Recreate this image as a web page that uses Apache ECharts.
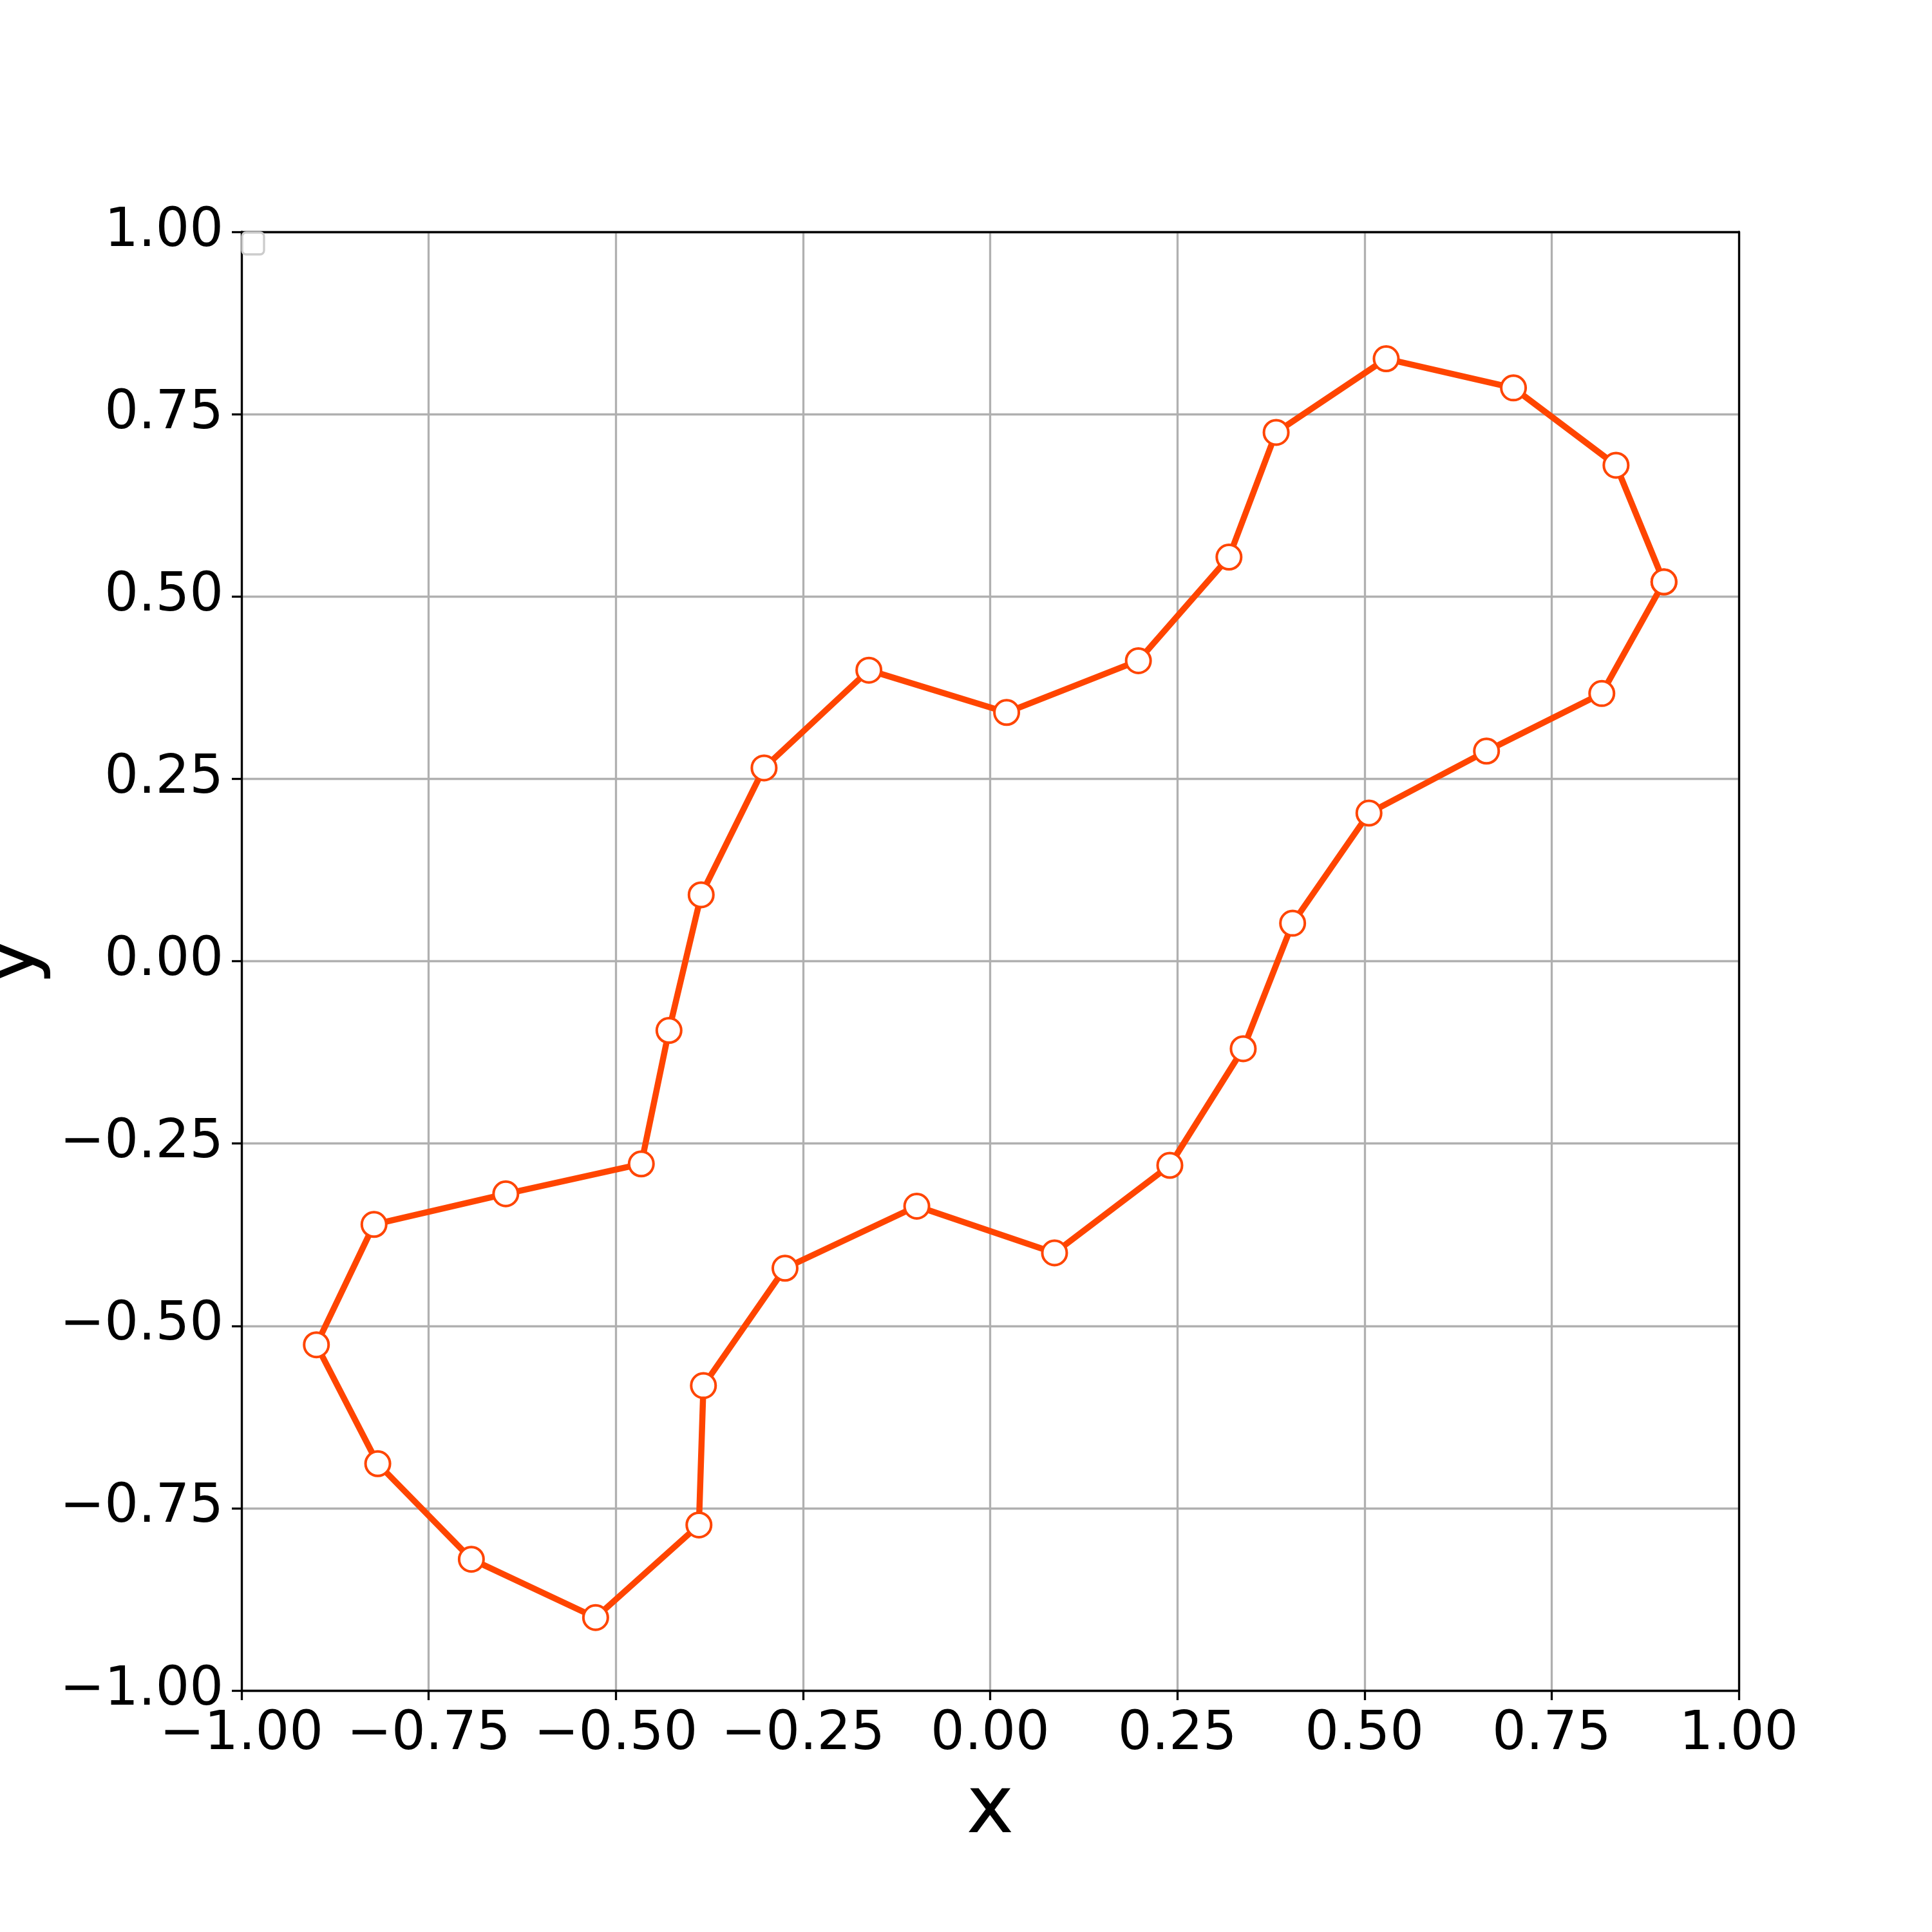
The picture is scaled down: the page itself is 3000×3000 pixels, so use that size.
<!DOCTYPE html>
<html>
<head>
<meta charset="utf-8">
<script src="https://cdn.jsdelivr.net/npm/echarts@6/dist/echarts.min.js"></script>
<style>
html,body{margin:0;padding:0;background:#fff;}
#chart{width:3000px;height:3000px;}
</style>
</head>
<body>
<div id="chart"></div>
<script>
// Closed curve points (first point repeated at end to close the loop)
const xValues = [0.900, 0.836, 0.699, 0.529, 0.382, 0.319, 0.198, 0.022, -0.162, -0.302,
                 -0.386, -0.429, -0.466, -0.647, -0.823, -0.900, -0.818, -0.693, -0.527, -0.389,
                 -0.383, -0.274, -0.098, 0.086, 0.240, 0.338, 0.404, 0.506, 0.663, 0.817, 0.900];
const yValues = [0.520, 0.680, 0.786, 0.826, 0.725, 0.554, 0.412, 0.341, 0.399, 0.265,
                 0.091, -0.095, -0.278, -0.319, -0.361, -0.526, -0.689, -0.820, -0.900, -0.773,
                 -0.582, -0.421, -0.336, -0.400, -0.280, -0.120, 0.052, 0.203, 0.288, 0.367, 0.520];
const xTicks = [-1.00, -0.75, -0.50, -0.25, 0.00, 0.25, 0.50, 0.75, 1.00];
const yTicks = [-1.00, -0.75, -0.50, -0.25, 0.00, 0.25, 0.50, 0.75, 1.00];

const points = xValues.map((x, i) => [x, yValues[i]]);
const fmt = v => (v < 0 ? '\u2212' : '') + Math.abs(v).toFixed(2);
const FONT = 'DejaVu Sans';
const LW = 3.3;

const axisCommon = {
  type: 'value',
  min: xTicks[0],
  max: xTicks[xTicks.length - 1],
  interval: 0.25,
  z: 0,
  axisLine: { show: true, onZero: false, lineStyle: { color: '#000', width: LW } },
  axisTick: { show: true, length: 15, lineStyle: { color: '#000', width: LW } },
  axisLabel: { formatter: fmt, fontFamily: FONT, fontSize: 83, color: '#000', margin: 28 },
  splitLine: { show: true, lineStyle: { color: '#b0b0b0', width: LW } },
  nameLocation: 'middle',
  nameTextStyle: { fontFamily: FONT, fontSize: 125, color: '#000' }
};
const spineAxis = {
  type: 'value',
  min: -1,
  max: 1,
  z: 3,
  axisLine: { show: true, onZero: false, lineStyle: { color: '#000', width: LW } },
  axisTick: { show: false },
  axisLabel: { show: false },
  splitLine: { show: false }
};

const chart = echarts.init(document.getElementById('chart'), null, { renderer: 'canvas' });
chart.setOption({
  animation: false,
  backgroundColor: '#fff',
  grid: {
    left: 375, top: 360, width: 2325, height: 2265,
    outerBoundsMode: 'none', containLabel: false
  },
  xAxis: [
    Object.assign({}, axisCommon, { name: 'x', nameGap: 125, position: 'bottom' }),
    Object.assign({}, spineAxis, { position: 'top' })
  ],
  yAxis: [
    Object.assign({}, axisCommon, { min: yTicks[0], max: yTicks[yTicks.length - 1], name: 'y', nameRotate: 90, nameGap: 290, position: 'left' }),
    Object.assign({}, spineAxis, { position: 'right' })
  ],
  graphic: [{
    type: 'rect',
    shape: { x: 376, y: 361, width: 34, height: 34, r: 6 },
    style: { fill: 'rgba(255,255,255,0.8)', stroke: '#cccccc', lineWidth: 3.3 },
    z: 100
  }],
  series: [{
    type: 'line',
    data: points,
    xAxisIndex: 0,
    yAxisIndex: 0,
    showSymbol: true,
    symbol: 'circle',
    symbolSize: 38,
    lineStyle: { color: '#ff4500', width: 9.5 },
    itemStyle: { color: '#ffffff', borderColor: '#ff4500', borderWidth: 4 },
    z: 10
  }]
});
</script>
</body>
</html>
